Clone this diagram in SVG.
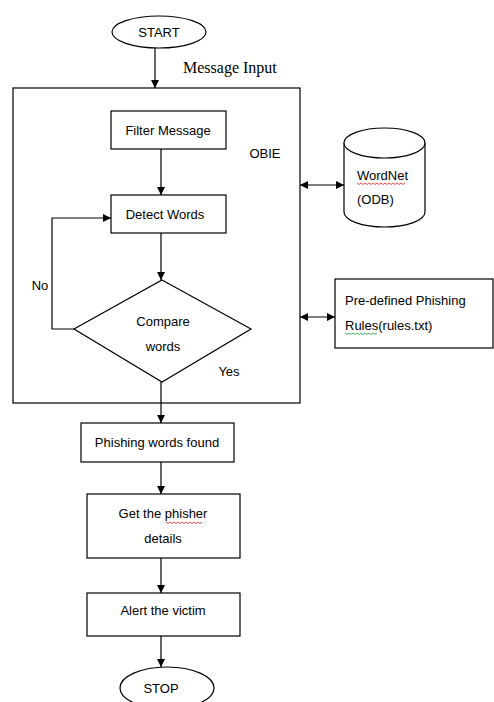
<svg xmlns="http://www.w3.org/2000/svg" width="494" height="702" viewBox="0 0 494 702">
  <style>
    .shape { fill: #ffffff; stroke: #000000; stroke-width: 1.2; }
    .line { fill: none; stroke: #000000; stroke-width: 1.2; }
    .lbl { font-family: "Liberation Sans", Arial, sans-serif; font-size: 13px; fill: #000000; }
    .serif { font-family: "Liberation Serif", "Times New Roman", serif; font-size: 16px; fill: #000000; }
    .squiggle-red { fill: none; stroke: #e02020; stroke-width: 0.8; }
    .squiggle-green { fill: none; stroke: #20a040; stroke-width: 0.8; }
  </style>
  <defs>
    <marker id="arrow" viewBox="0 0 10 10" refX="10" refY="5" markerWidth="8" markerHeight="8" markerUnits="userSpaceOnUse" orient="auto-start-reverse">
      <path d="M0,0 L10,5 L0,10 Z" fill="#000000"/>
    </marker>
  </defs>

  <rect width="494" height="702" fill="#ffffff"/>

  <!-- connectors -->
  <g id="connectors">
    <line class="line" x1="155" y1="48" x2="155" y2="88" marker-end="url(#arrow)"/>
    <line class="line" x1="161" y1="149" x2="161" y2="195" marker-end="url(#arrow)"/>
    <line class="line" x1="161" y1="233" x2="161" y2="280" marker-end="url(#arrow)"/>
    <polyline class="line" points="74,329 52,329 52,218 111,218" marker-end="url(#arrow)"/>
    <line class="line" x1="161" y1="382" x2="161" y2="423" marker-end="url(#arrow)"/>
    <line class="line" x1="161" y1="462" x2="161" y2="494" marker-end="url(#arrow)"/>
    <line class="line" x1="161" y1="558" x2="161" y2="593" marker-end="url(#arrow)"/>
    <line class="line" x1="161" y1="636" x2="161" y2="667" marker-end="url(#arrow)"/>
    <line class="line" x1="300" y1="185" x2="344" y2="185" marker-start="url(#arrow)" marker-end="url(#arrow)"/>
    <line class="line" x1="300" y1="317" x2="335" y2="317" marker-start="url(#arrow)" marker-end="url(#arrow)"/>
    <text class="serif" x="183" y="73">Message Input</text>
    <text class="lbl" x="40" y="290" text-anchor="middle">No</text>
    <text class="lbl" x="229" y="376" text-anchor="middle">Yes</text>
  </g>

  <g id="start">
    <ellipse class="shape" cx="159" cy="32" rx="47" ry="16"/>
    <text class="lbl" x="159" y="37" text-anchor="middle">START</text>
  </g>

  <g id="obie">
    <rect class="line" x="13" y="88" width="287" height="315"/>
    <text class="lbl" x="265" y="158" text-anchor="middle">OBIE</text>
  </g>

  <g id="filter">
    <rect class="shape" x="111" y="111" width="115" height="38"/>
    <text class="lbl" x="168" y="135" text-anchor="middle">Filter Message</text>
  </g>

  <g id="detect">
    <rect class="shape" x="111" y="195" width="115" height="38"/>
    <text class="lbl" x="165" y="219" text-anchor="middle">Detect Words</text>
  </g>

  <g id="compare">
    <polygon class="shape" points="162,280 251,329 162,382 74,329"/>
    <text class="lbl" x="163" y="326" text-anchor="middle">Compare</text>
    <text class="lbl" x="163" y="351" text-anchor="middle">words</text>
  </g>

  <g id="wordnet">
    <path class="shape" d="M344,143 L344,212 A40.5,15 0 0 0 425,212 L425,143"/>
    <ellipse class="shape" cx="384.5" cy="143" rx="40.5" ry="15"/>
    <text class="lbl" x="357" y="180">WordNet</text>
    <text class="lbl" x="357" y="204">(ODB)</text>
    <path class="squiggle-red" d="M357,183 l2,1.5 l2,-1.5 l2,1.5 l2,-1.5 l2,1.5 l2,-1.5 l2,1.5 l2,-1.5 l2,1.5 l2,-1.5 l2,1.5 l2,-1.5 l2,1.5 l2,-1.5 l2,1.5 l2,-1.5 l2,1.5 l2,-1.5 l2,1.5 l2,-1.5 l2,1.5 l2,-1.5 l2,1.5 l2,-1.5"/>
  </g>

  <g id="rules">
    <rect class="shape" x="335" y="279" width="158" height="69"/>
    <text class="lbl" x="345" y="305">Pre-defined Phishing</text>
    <text class="lbl" x="345" y="330">Rules(rules.txt)</text>
    <path class="squiggle-green" d="M345,333 l2,1.5 l2,-1.5 l2,1.5 l2,-1.5 l2,1.5 l2,-1.5 l2,1.5 l2,-1.5 l2,1.5 l2,-1.5 l2,1.5 l2,-1.5 l2,1.5 l2,-1.5 l2,1.5 l2,-1.5"/>
  </g>

  <g id="found">
    <rect class="shape" x="81" y="423" width="153" height="39"/>
    <text class="lbl" x="157" y="447" text-anchor="middle">Phishing words found</text>
  </g>

  <g id="details">
    <rect class="shape" x="87" y="494" width="153" height="64"/>
    <text class="lbl" x="163" y="518" text-anchor="middle">Get the phisher</text>
    <text class="lbl" x="163" y="543" text-anchor="middle">details</text>
    <path class="squiggle-red" d="M166,522 l2,1.5 l2,-1.5 l2,1.5 l2,-1.5 l2,1.5 l2,-1.5 l2,1.5 l2,-1.5 l2,1.5 l2,-1.5 l2,1.5 l2,-1.5 l2,1.5 l2,-1.5 l2,1.5 l2,-1.5 l2,1.5 l2,-1.5"/>
  </g>

  <g id="alert">
    <rect class="shape" x="87" y="593" width="153" height="43"/>
    <text class="lbl" x="163" y="615" text-anchor="middle">Alert the victim</text>
  </g>

  <g id="stop">
    <ellipse class="shape" cx="167" cy="688" rx="47" ry="21"/>
    <text class="lbl" x="161" y="693" text-anchor="middle">STOP</text>
  </g>
</svg>
